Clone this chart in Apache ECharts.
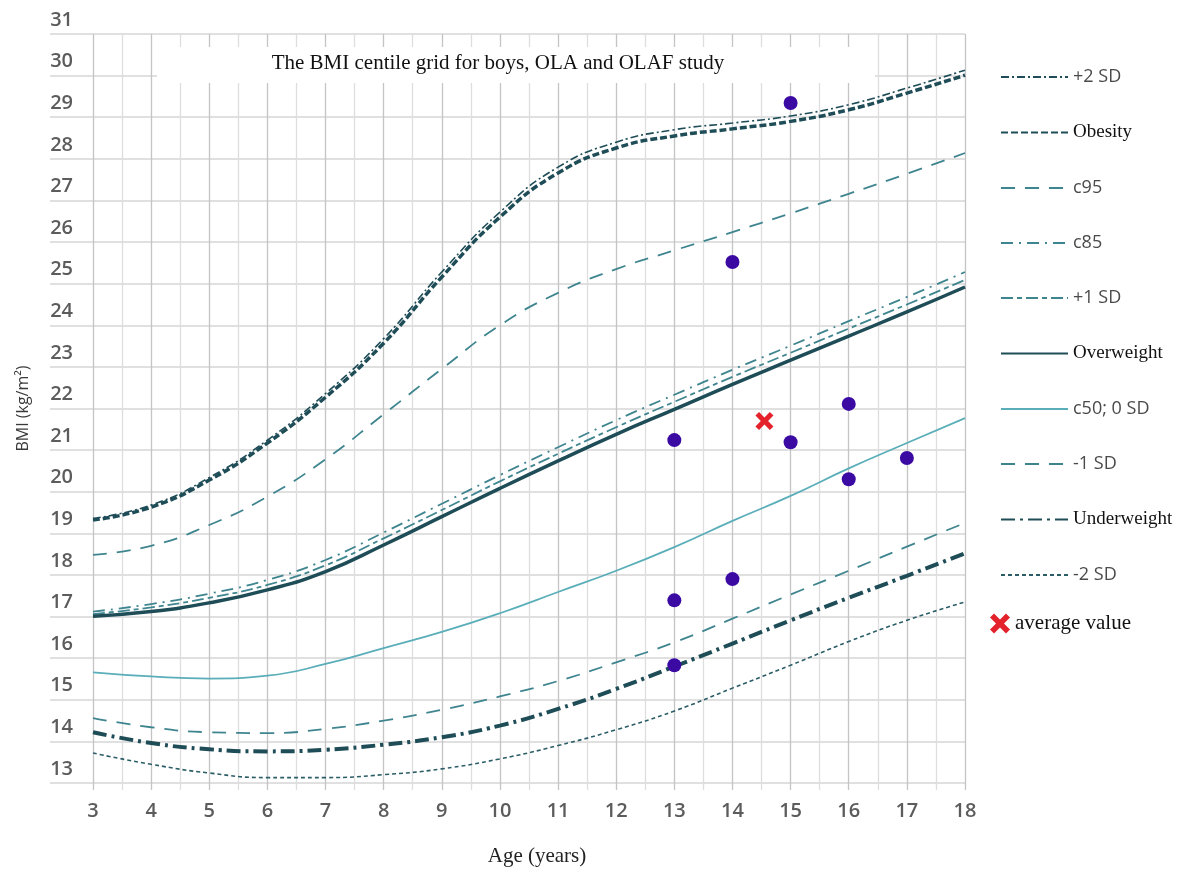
<!DOCTYPE html>
<html>
<head>
<meta charset="utf-8">
<script src="https://cdn.jsdelivr.net/npm/echarts@6/dist/echarts.min.js"></script>
<style>
	html, body { margin: 0; padding: 0; background: #fff; }
	#main { width: 1187px; height: 873px; }
</style>
</head>
<body>
<div id="main"></div>
<script>
// ages for the centile curves
const ages = [3, 4, 5, 6, 7, 8, 9, 10, 11, 12, 13, 14, 15, 16, 17, 18];

const plus2sd = [19.36, 19.68, 20.34, 21.24, 22.36, 23.68, 25.28, 26.72, 27.8, 28.4, 28.7, 28.86, 29.03, 29.3, 29.7, 30.13];
const obesity = [19.32, 19.63, 20.28, 21.17, 22.27, 23.57, 25.16, 26.6, 27.66, 28.26, 28.55, 28.72, 28.9, 29.18, 29.58, 30.01];
const c95 = [18.48, 18.7, 19.2, 19.88, 20.78, 21.86, 22.95, 24.0, 24.78, 25.35, 25.8, 26.24, 26.69, 27.16, 27.64, 28.14];
const c85 = [17.12, 17.3, 17.55, 17.88, 18.36, 19.02, 19.71, 20.4, 21.07, 21.72, 22.33, 22.93, 23.51, 24.1, 24.68, 25.28];
const plus1sd = [17.06, 17.22, 17.45, 17.76, 18.23, 18.88, 19.56, 20.25, 20.91, 21.55, 22.16, 22.76, 23.34, 23.92, 24.5, 25.09];
const overweight = [17.01, 17.12, 17.33, 17.64, 18.08, 18.72, 19.4, 20.08, 20.74, 21.38, 21.98, 22.58, 23.16, 23.74, 24.32, 24.92];
const c50 = [15.66, 15.56, 15.51, 15.58, 15.86, 16.24, 16.63, 17.08, 17.59, 18.1, 18.67, 19.3, 19.9, 20.56, 21.17, 21.77];
const minus1sd = [14.56, 14.34, 14.22, 14.2, 14.3, 14.5, 14.76, 15.08, 15.45, 15.9, 16.38, 16.95, 17.53, 18.1, 18.68, 19.25];
const underweight = [14.22, 13.96, 13.81, 13.76, 13.8, 13.92, 14.1, 14.38, 14.78, 15.26, 15.8, 16.35, 16.91, 17.45, 17.98, 18.52];
const minus2sd = [13.72, 13.45, 13.24, 13.13, 13.13, 13.2, 13.34, 13.58, 13.9, 14.28, 14.73, 15.28, 15.83, 16.4, 16.91, 17.35];

// individual boys in the study
const dotAges = [13, 13, 13, 14, 14, 15, 15, 16, 16, 17];
const dotBmi = [21.24, 17.39, 15.83, 25.52, 17.9, 29.34, 21.19, 22.11, 20.3, 20.81];

const avgAge = [14.55];
const avgBmi = [21.7];

const yTicks = [13, 31];
const xTicks = [3, 18];

const dark = '#1e4c57';
const mid = '#3f858f';
const light = '#5aaeb9';
const serifNames = ['Obesity', 'Overweight', 'Underweight', 'average value'];
const crossPath = 'path://M0,2L2,0L5,3L8,0L10,2L7,5L10,8L8,10L5,7L2,10L0,8L3,5Z';

const pairs = (ys) => ages.map((a, i) => [a, ys[i]]);

const curve = (name, ys, color, width, type) => ({
	name,
	type: 'line',
	data: pairs(ys),
	smooth: true,
	symbol: 'none',
	silent: true,
	lineStyle: { color, width, type },
	itemStyle: { color }
});

const chart = echarts.init(document.getElementById('main'));
chart.setOption({
	backgroundColor: '#fff',
	animation: false,
	grid: { left: 93, right: 222, top: 34, bottom: 90 },
	xAxis: {
		type: 'value',
		min: xTicks[0],
		max: xTicks[1],
		interval: 1,
		name: 'Age (years)',
		nameLocation: 'middle',
		nameGap: 63,
		nameTextStyle: { fontFamily: 'Liberation Serif', fontSize: 21, color: '#222', padding: [0, 0, 0, 16] },
		axisLine: { show: false },
		axisTick: { show: true, length: 7, lineStyle: { color: '#c4c4c4', width: 1.3 } },
		minorTick: { show: true, splitNumber: 2, length: 7, lineStyle: { color: '#dedede', width: 1.3 } },
		splitLine: { show: true, lineStyle: { color: '#c4c4c4', width: 1.3 } },
		minorSplitLine: { show: true, lineStyle: { color: '#dedede', width: 1.3 } },
		axisLabel: { margin: 18, fontFamily: 'Open Sans', fontWeight: 600, fontSize: 20, color: '#5c5c5c' }
	},
	yAxis: {
		type: 'value',
		min: yTicks[0],
		max: yTicks[1],
		interval: 1,
		name: 'BMI (kg/m²)',
		nameLocation: 'middle',
		nameGap: 62,
		nameTextStyle: { fontFamily: 'Open Sans', fontSize: 16, color: '#3a3a3a' },
		axisLine: { show: false },
		axisTick: { show: true, length: 43, lineStyle: { color: '#d6d6d6', width: 1.5 } },
		splitLine: { show: true, lineStyle: { color: '#d6d6d6', width: 1.5 } },
		axisLabel: {
			margin: 20,
			verticalAlign: 'bottom',
			padding: [0, 0, 4, 0],
			fontFamily: 'Open Sans',
			fontWeight: 600,
			fontSize: 20,
			color: '#5c5c5c'
		}
	},
	legend: [{
		orient: 'vertical',
		left: 995,
		top: 63,
		itemWidth: 67,
		itemHeight: 14,
		itemGap: 37,
		selectedMode: false,
		itemStyle: { opacity: 0 },
		data: ['+2 SD', 'Obesity', 'c95', 'c85', '+1 SD', 'Overweight', 'c50; 0 SD', '-1 SD', 'Underweight', '-2 SD'],
		formatter: (name) => (serifNames.includes(name) ? `{s|${name}}` : `{n|${name}}`),
		textStyle: {
			rich: {
				s: { fontFamily: 'Liberation Serif', fontSize: 19, color: '#111' },
				n: { fontFamily: 'Open Sans', fontSize: 18, color: '#4a4a4a' }
			}
		}
	}, {
		orient: 'vertical',
		left: 985,
		top: 608,
		itemWidth: 20,
		itemHeight: 20,
		selectedMode: false,
		data: [{ name: 'average value', icon: crossPath }],
		textStyle: { fontFamily: 'Liberation Serif', fontSize: 21, color: '#111' }
	}],
	graphic: [{
		type: 'rect',
		shape: { x: 157, y: 47, width: 718, height: 36 },
		style: { fill: '#fff' },
		z: 5
	}, {
		type: 'text',
		x: 498,
		y: 63,
		style: {
			text: 'The BMI centile grid for boys, OLA and OLAF study',
			fontFamily: 'Liberation Serif',
			fontSize: 21,
			fill: '#111',
			align: 'center',
			verticalAlign: 'middle'
		},
		z: 6
	}],
	series: [
		curve('+2 SD', plus2sd, dark, 1.6, [8, 3, 2, 3]),
		curve('Obesity', obesity, dark, 3.5, [7, 3]),
		curve('c95', c95, mid, 1.8, [14, 10]),
		curve('c85', c85, mid, 1.8, [12, 6, 2, 6]),
		curve('+1 SD', plus1sd, mid, 1.8, [12, 4, 5, 4]),
		curve('Overweight', overweight, dark, 3.5, 'solid'),
		curve('c50; 0 SD', c50, light, 1.8, 'solid'),
		curve('-1 SD', minus1sd, mid, 1.8, [14, 10]),
		curve('Underweight', underweight, dark, 4, [14, 5, 3, 5]),
		curve('-2 SD', minus2sd, '#2b5d67', 1.6, [4, 3]),
		{
			name: 'children',
			type: 'scatter',
			symbol: 'circle',
			symbolSize: 14,
			itemStyle: { color: '#3b0aa3', opacity: 1 },
			data: dotAges.map((a, i) => [a, dotBmi[i]]),
			z: 4
		},
		{
			name: 'average value',
			type: 'scatter',
			symbol: crossPath,
			symbolSize: 18,
			itemStyle: { color: '#e3222c', opacity: 1 },
			data: avgAge.map((a, i) => [a, avgBmi[i]]),
			z: 4
		}
	]
});
</script>
</body>
</html>
